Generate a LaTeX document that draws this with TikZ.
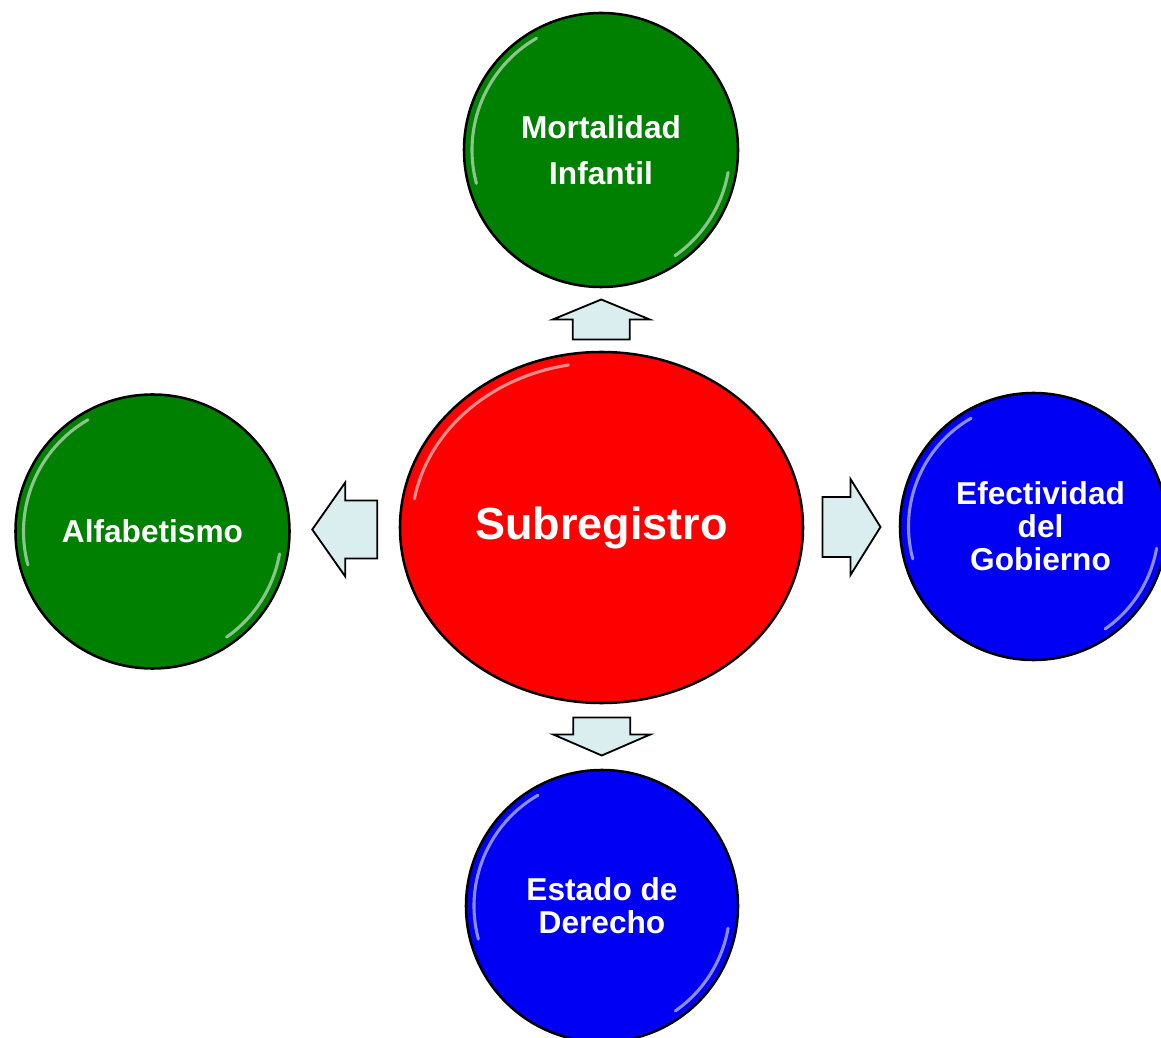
\documentclass[tikz,border=0pt]{standalone}
\usepackage{fontspec}
\setmainfont{Liberation Sans}
\usetikzlibrary{shapes.geometric}
\usetikzlibrary{calc}

\definecolor{topicgreen}{RGB}{0,128,0}
\definecolor{topicblue}{RGB}{0,0,245}
\definecolor{arrowfill}{RGB}{218,237,239}

\begin{document}
\begin{tikzpicture}[x=0.25mm, y=-0.25mm,
  bubble/.style={circle, draw=black, line width=1.8pt, text=white, align=center,
    font=\bfseries\fontsize{22.5}{23.5}\selectfont, minimum size=68.5mm, inner sep=0pt},
  gloss/.style={white, opacity=0.55, line width=2.2pt, line cap=round},
  blockarrow/.style={draw=black, line width=1.3pt, fill=arrowfill, line join=miter}]
 % keep the frame of the reference
 \useasboundingbox (0,0) rectangle (1161,1038);

 % centre and the four topics
 \node[bubble, ellipse, fill=red, minimum width=100.75mm, minimum height=87.75mm,
   font=\bfseries\fontsize{32}{36}\selectfont] (sub) at (601.5,527.5) {Subregistro};
 \node[bubble, fill=topicgreen] (mort) at (601,150) {Mortalidad\\[9pt]Infantil};
 \node[bubble, fill=topicgreen] (alf) at (152.5,531.5) {Alfabetismo};
 \node[bubble, fill=topicblue, minimum size=66.75mm] (gob) at (1033.5,526.5) {\hspace*{10pt}Efectividad\\\hspace*{10pt}del\\\hspace*{10pt}Gobierno};
 \node[bubble, fill=topicblue, minimum size=68mm] (est) at (602,906) {Estado de\\Derecho};

 % glossy rims
 \foreach \n/\r in {mort/129, alf/129, gob/125, est/128} {
   \draw[gloss] ([shift={(-120:\r)}]\n.center) arc[start angle=-120, end angle=-195, radius=\r];
   \draw[gloss] ([shift={(10:\r)}]\n.center) arc[start angle=10, end angle=55, radius=\r];
 }
 \draw[gloss] ([shift={(-100:190 and 165)}]sub.center) arc[start angle=-100, end angle=-170, x radius=190, y radius=165];

 % block arrows half way between the centre and each topic
 \foreach \a/\src/\dst/\ang/\len/\hd/\sh/\hw in {
     up/sub.north/mort.south/90/40/20/28.5/48.5,
     left/sub.west/alf.east/180/65/33/29/47,
     right/sub.east/gob.west/0/58/30/30/48,
     down/sub.south/est.north/-90/38/21/28.5/48.5} {
   \coordinate (\a) at ($(\src)!0.5!(\dst)$);
   \draw[blockarrow, shift={(\a)}, rotate=\ang]
     (-\len/2,-\sh) -- (\len/2-\hd,-\sh) -- (\len/2-\hd,-\hw) -- (\len/2,0)
     -- (\len/2-\hd,\hw) -- (\len/2-\hd,\sh) -- (-\len/2,\sh) -- cycle;
 }
\end{tikzpicture}
\end{document}
